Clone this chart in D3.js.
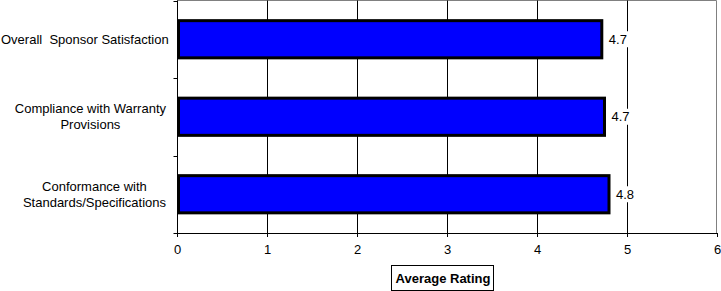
<!DOCTYPE html>
<meta charset="utf-8">
<body style="margin:0;background:#fff">
<script src="https://d3js.org/d3.v7.min.js"></script>
<script>
// chart values
var categories = [
  ['Overall  Sponsor Satisfaction'],
  ['Compliance with Warranty', 'Provisions'],
  ['Conformance with', 'Standards/Specifications']
];
var ratings = [4.72, 4.75, 4.80];
var labels = ['4.7', '4.7', '4.8'];
var xTicks = [0, 1, 2, 3, 4, 5, 6];
var axisTitle = 'Average Rating';

var W = 721, H = 291;
var m = {l: 177, r: 4, t: 0.5, b: 58};
var FONT = 'Liberation Sans, Arial, sans-serif';

var svg = d3.select('body').append('svg')
    .attr('width', W).attr('height', H)
    .style('display', 'block')
    .style('font-family', FONT);

var x = d3.scaleLinear().domain([0, 6]).range([m.l, W - m.r]);
var y = d3.scaleBand().domain(d3.range(categories.length))
    .range([m.t, H - m.b]).paddingInner(0.52).paddingOuter(0.26);
var yb = d3.scaleBand().domain(d3.range(categories.length)).range([m.t, H - m.b]);

// plot frame (gray top/right)
svg.append('path')
  .attr('d', `M${x(0)},${m.t}H${x(6) - 0.5}V${H - m.b}`)
  .attr('fill', 'none').attr('stroke', '#808080');

// gridlines
svg.selectAll('.grid').data(xTicks.slice(1, -1)).enter().append('line')
  .attr('x1', d => Math.round(x(d)) + 0.5).attr('x2', d => Math.round(x(d)) + 0.5)
  .attr('y1', m.t).attr('y2', H - m.b)
  .attr('stroke', '#000');

// bars
svg.selectAll('.bar').data(ratings).enter().append('rect')
  .attr('x', x(0) + 1.5)
  .attr('y', (d, i) => y(i))
  .attr('width', d => x(d) - x(0) - 1.5)
  .attr('height', y.bandwidth())
  .attr('fill', '#0000ff').attr('stroke', '#000').attr('stroke-width', 3);

// value labels with white backing
var vl = svg.selectAll('.vl').data(ratings).enter().append('g')
  .attr('transform', (d, i) => `translate(${x(d) + 7},${y(i) + y.bandwidth() / 2})`);
vl.append('rect').attr('x', -2).attr('y', -8).attr('width', 24).attr('height', 16).attr('fill', '#fff');
vl.append('text').text((d, i) => labels[i])
  .attr('font-size', 13).attr('dy', '0.35em');

// x axis
var xa = svg.append('g').attr('transform', `translate(0,${H - m.b})`)
  .call(d3.axisBottom(x).tickValues(xTicks).tickFormat(d3.format('d')).tickSize(4).tickPadding(8));
xa.select('.domain').attr('stroke', '#000');
xa.selectAll('text').attr('font-size', 13).attr('fill', '#000')
  .attr('font-family', FONT);

// y axis
var ya = svg.append('g').attr('transform', `translate(${x(0) + 0.5},0)`);
ya.append('line').attr('y1', m.t).attr('y2', H - m.b).attr('stroke', '#000');
ya.selectAll('.tk').data(d3.range(categories.length + 1)).enter().append('line')
  .attr('x1', -4).attr('x2', 0)
  .attr('y1', d => Math.round(m.t + d * yb.step()) + 0.5)
  .attr('y2', d => Math.round(m.t + d * yb.step()) + 0.5)
  .attr('stroke', '#000');

// category labels: block right edge at 166, lines centred within it
svg.selectAll('.cat').data(categories).enter().append('text')
  .attr('font-size', 13).attr('text-anchor', 'middle')
  .attr('xml:space', 'preserve').style('white-space', 'pre')
  .each(function(lines, i) {
    var t = d3.select(this);
    var cy = y(i) + y.bandwidth() / 2;
    var spans = lines.map((s, j) => t.append('tspan')
        .attr('y', cy + (j - (lines.length - 1) / 2) * 16)
        .attr('dy', '0.35em').text(s));
    var wmax = d3.max(spans, s => s.node().getComputedTextLength());
    var cx = Math.max(166 - wmax / 2, wmax / 2 + 1);
    spans.forEach(s => s.attr('x', cx));
  });

// axis title boxed
var tg = svg.append('g').attr('transform', `translate(443,278)`);
tg.append('rect').attr('x', -51.5).attr('y', -12.5).attr('width', 102).attr('height', 25)
  .attr('fill', '#fff').attr('stroke', '#000');
tg.append('text').text(axisTitle).attr('font-size', 13).attr('font-weight', 'bold')
  .attr('text-anchor', 'middle').attr('dy', '0.35em');
</script>
</body>
